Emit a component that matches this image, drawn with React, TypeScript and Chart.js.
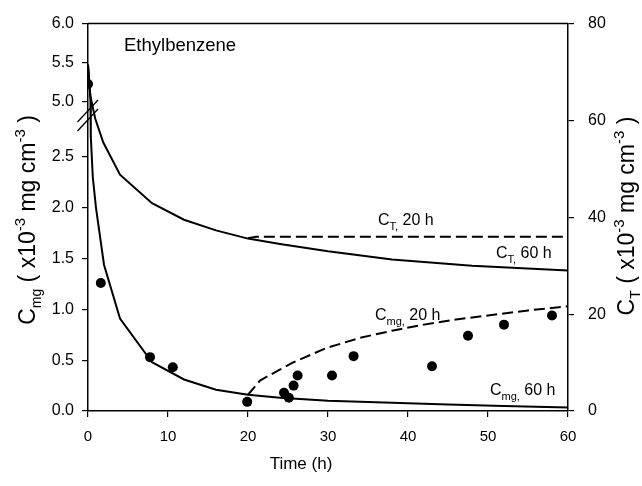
import React, { useEffect, useRef } from 'react';
import { Chart, registerables } from 'chart.js';

Chart.register(...registerables);

const FONT = '"Liberation Sans", Arial, Helvetica, sans-serif';

// ---- axis ticks ----
const xTickValues = [0, 10, 20, 30, 40, 50, 60];
const leftTickValues = [0, 0.5, 1.0, 1.5, 2.0, 2.5, 5.0, 5.5, 6.0];
const leftTickLabels = ['0.0', '0.5', '1.0', '1.5', '2.0', '2.5', '5.0', '5.5', '6.0'];
const rightTickValues = [0, 20, 40, 60, 80];

// ---- Cmg model, 60 h (left axis, x10-3 mg cm-3) ----
const cmg60Time = [0, 0.3, 0.35, 0.6, 1, 2, 4, 8, 12, 16, 20, 24, 30, 38, 45, 52, 60];
const cmg60Value = [5.48, 5.05, 2.7, 2.3, 2.0, 1.44, 0.91, 0.48, 0.31, 0.21, 0.16, 0.13, 0.1, 0.08, 0.065, 0.05, 0.035];

// ---- Cmg model, 20 h (left axis) ----
const cmg20Time = [20, 21.5, 23.8, 25.7, 29.8, 34, 38, 42, 46, 50, 55, 60];
const cmg20Value = [0.16, 0.3, 0.4, 0.48, 0.62, 0.72, 0.79, 0.85, 0.9, 0.94, 0.99, 1.03];

// ---- CT model, 60 h (right axis) ----
const ct60Time = [0, 0.3, 0.9, 1.9, 4, 8, 12, 16, 20, 24, 30, 38, 48, 60];
const ct60Value = [71.5, 65, 60.4, 55.5, 48.8, 42.9, 39.5, 37.3, 35.6, 34.5, 33.0, 31.3, 30.0, 29.0];

// ---- CT model, 20 h (right axis) ----
const ct20Time = [20, 21, 60];
const ct20Value = [35.7, 36.0, 36.0];

// ---- observed Cmg (left axis) ----
const obsTime = [0, 1.6, 7.75, 10.6, 19.9, 24.5, 25.1, 25.7, 26.2, 30.5, 33.2, 43, 47.5, 52, 58];
const obsCmg = [5.23, 1.26, 0.53, 0.43, 0.09, 0.18, 0.13, 0.25, 0.35, 0.35, 0.54, 0.44, 0.74, 0.85, 0.94];

// broken left axis: 0–3 on the lower scale, 5–6 on a compressed upper scale
const LOW_MAX = 3.0;
const UP_START = 3.0405;
const UP_SLOPE = 0.772;
function brk(v: number): number {
  if (v <= LOW_MAX) return v;
  if (v < 5) return LOW_MAX + ((v - LOW_MAX) / 2) * (UP_START - LOW_MAX);
  return UP_START + (v - 5) * UP_SLOPE;
}

function pts(xs: number[], ys: number[], f: (v: number) => number = (v) => v) {
  return xs.map((x, i) => ({ x, y: f(ys[i]) }));
}

type Part = { t: string; s: number; dy?: number };

function drawRich(ctx: CanvasRenderingContext2D, parts: Part[], x: number, y: number, align: 'left' | 'center', rot = 0) {
  ctx.save();
  ctx.translate(x, y);
  if (rot) ctx.rotate(rot);
  ctx.textAlign = 'left';
  ctx.textBaseline = 'alphabetic';
  let total = 0;
  const widths = parts.map((p) => {
    ctx.font = `${p.s}px ${FONT}`;
    const w = ctx.measureText(p.t).width;
    total += w;
    return w;
  });
  let cx = align === 'center' ? -total / 2 : 0;
  parts.forEach((p, i) => {
    ctx.font = `${p.s}px ${FONT}`;
    ctx.fillText(p.t, cx, p.dy || 0);
    cx += widths[i];
  });
  ctx.restore();
}

const overlay = {
  id: 'overlay',
  afterDraw(chart: any) {
    const ctx: CanvasRenderingContext2D = chart.ctx;
    const a = chart.chartArea;
    ctx.save();
    ctx.strokeStyle = '#000';
    ctx.lineWidth = 1.5;
    // top frame
    ctx.beginPath();
    ctx.moveTo(a.left, a.top);
    ctx.lineTo(a.right, a.top);
    ctx.stroke();
    // axis break marks
    ctx.lineWidth = 1.3;
    ctx.beginPath();
    ctx.moveTo(77.5, 122);
    ctx.lineTo(98, 100);
    ctx.moveTo(77.5, 131);
    ctx.lineTo(98, 109);
    ctx.stroke();

    ctx.fillStyle = '#000';
    // chart title
    ctx.font = `18.5px ${FONT}`;
    ctx.textAlign = 'left';
    ctx.textBaseline = 'alphabetic';
    ctx.fillText('Ethylbenzene', 124, 51);

    // curve annotations
    drawRich(ctx, [{ t: 'C', s: 16 }, { t: 'T,', s: 11, dy: 5 }, { t: ' 20 h', s: 16 }], 378, 225, 'left');
    drawRich(ctx, [{ t: 'C', s: 16 }, { t: 'T,', s: 11, dy: 5 }, { t: ' 60 h', s: 16 }], 496, 258, 'left');
    drawRich(ctx, [{ t: 'C', s: 16 }, { t: 'mg,', s: 11, dy: 5 }, { t: ' 20 h', s: 16 }], 375, 320, 'left');
    drawRich(ctx, [{ t: 'C', s: 16 }, { t: 'mg,', s: 11, dy: 5 }, { t: ' 60 h', s: 16 }], 490, 395, 'left');

    // x axis title
    ctx.font = `17px ${FONT}`;
    ctx.textAlign = 'center';
    ctx.fillText('Time (h)', 301, 469);

    // y axis titles
    drawRich(
      ctx,
      [
        { t: 'C', s: 23 },
        { t: 'mg', s: 14, dy: 6 },
        { t: ' ( x10', s: 23 },
        { t: '-3', s: 15, dy: -10 },
        { t: ' mg cm', s: 23 },
        { t: '-3', s: 15, dy: -10 },
        { t: ' )', s: 23 },
      ],
      35,
      220,
      'center',
      -Math.PI / 2
    );
    drawRich(
      ctx,
      [
        { t: 'C', s: 23 },
        { t: 'T', s: 14, dy: 6 },
        { t: ' ( x10', s: 23 },
        { t: '-3', s: 15, dy: -10 },
        { t: ' mg cm', s: 23 },
        { t: '-3', s: 15, dy: -10 },
        { t: ' )', s: 23 },
      ],
      634,
      216,
      'center',
      -Math.PI / 2
    );
    ctx.restore();
  },
};

export default function App() {
  const ref = useRef<HTMLCanvasElement | null>(null);

  useEffect(() => {
    if (!ref.current) return;
    const lineBase = {
      showLine: true,
      pointRadius: 0,
      borderColor: '#000',
      backgroundColor: '#000',
      borderWidth: 2,
      tension: 0,
      fill: false,
    };
    const chart = new Chart(ref.current, {
      type: 'scatter',
      data: {
        datasets: [
          {
            label: 'Observed Cmg',
            data: pts(obsTime, obsCmg, brk),
            yAxisID: 'y',
            showLine: false,
            pointRadius: 5,
            pointBackgroundColor: '#000',
            pointBorderColor: '#000',
            pointBorderWidth: 0,
          },
          { ...lineBase, label: 'Cmg, 60 h', data: pts(cmg60Time, cmg60Value, brk), yAxisID: 'y' },
          { ...lineBase, label: 'Cmg, 20 h', data: pts(cmg20Time, cmg20Value, brk), yAxisID: 'y', borderDash: [11, 5] },
          { ...lineBase, label: 'CT, 60 h', data: pts(ct60Time, ct60Value), yAxisID: 'y2' },
          { ...lineBase, label: 'CT, 20 h', data: pts(ct20Time, ct20Value), yAxisID: 'y2', borderDash: [11, 5] },
        ] as any,
      },
      options: {
        animation: false,
        responsive: false,
        events: [],
        layout: { padding: { top: 16, left: 0, right: 0, bottom: 0 } },
        plugins: {
          legend: { display: false },
          tooltip: { enabled: false },
          title: { display: false },
        },
        scales: {
          x: {
            type: 'linear',
            position: 'bottom',
            min: 0,
            max: 60,
            afterFit: (s: any) => {
              s.height = 75;
            },
            afterBuildTicks: (s: any) => {
              s.ticks = xTickValues.map((v) => ({ value: v }));
            },
            ticks: { font: { family: FONT, size: 15 }, color: '#000', padding: 11, maxRotation: 0, autoSkip: false },
            grid: { drawOnChartArea: false, drawTicks: true, tickLength: 6, color: '#000', lineWidth: 1.2 },
            border: { display: true, color: '#000', width: 1.5 },
          },
          y: {
            type: 'linear',
            position: 'left',
            min: 0,
            max: brk(6.0),
            afterFit: (s: any) => {
              s.width = 88;
            },
            afterBuildTicks: (s: any) => {
              s.ticks = leftTickValues.map((v) => ({ value: brk(v) }));
            },
            ticks: {
              font: { family: FONT, size: 16 },
              color: '#000',
              padding: 8,
              autoSkip: false,
              callback: (_v: any, i: number) => leftTickLabels[i],
            },
            grid: { drawOnChartArea: false, drawTicks: true, tickLength: 6, color: '#000', lineWidth: 1.2 },
            border: { display: true, color: '#000', width: 1.5 },
          },
          y2: {
            type: 'linear',
            position: 'right',
            min: 0,
            max: 80,
            afterFit: (s: any) => {
              s.width = 74;
            },
            afterBuildTicks: (s: any) => {
              s.ticks = rightTickValues.map((v) => ({ value: v }));
            },
            ticks: { font: { family: FONT, size: 16 }, color: '#000', padding: 14, autoSkip: false },
            grid: { drawOnChartArea: false, drawTicks: true, tickLength: 6, color: '#000', lineWidth: 1.2 },
            border: { display: true, color: '#000', width: 1.5 },
          },
        },
      } as any,
      plugins: [overlay],
    });
    return () => chart.destroy();
  }, []);

  return (
    <div style={{ position: 'absolute', left: 0, top: 0, width: 642, height: 486, background: '#fff' }}>
      <canvas ref={ref} width={642} height={486} style={{ display: 'block', width: 642, height: 486 }} />
    </div>
  );
}
